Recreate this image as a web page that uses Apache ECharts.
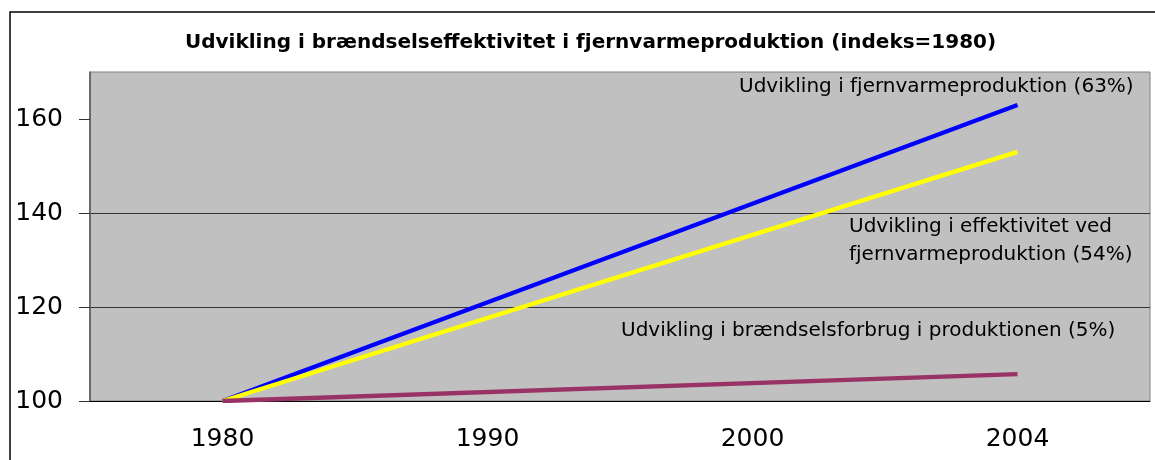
<!DOCTYPE html>
<html>
<head>
<meta charset="utf-8">
<script src="https://cdn.jsdelivr.net/npm/echarts@6/dist/echarts.min.js"></script>
<style>
  html, body { margin: 0; padding: 0; background: #fff; }
  #chart { width: 1155px; height: 460px; }
</style>
</head>
<body>
<div id="chart"></div>
<script>
// år (kun 1980 og 2004 har værdier, linjerne forbindes lige)
const years = ['1980', '1990', '2000', '2004']
const fjernvarme = [100, null, null, 163]
const effektivitet = [100, null, null, 153]
const braendsel = [100, null, null, 105.7]
const yTicks = [100, 120, 140, 160]

const font = 'DejaVu Sans, Liberation Sans, Arial, sans-serif'

const chart = echarts.init(document.getElementById('chart'))

chart.setOption({
  animation: false,
  title: {
    text: 'Udvikling i brændselseffektivitet i fjernvarmeproduktion (indeks=1980)',
    left: 180,
    top: 28,
    textStyle: { fontFamily: font, fontSize: 20, fontWeight: 'bold', color: '#000' }
  },
  grid: {
    left: 90, right: 5, top: 72, bottom: 59,
    show: true, backgroundColor: '#C0C0C0', borderColor: '#808080', borderWidth: 1
  },
  xAxis: {
    type: 'category',
    data: years,
    boundaryGap: true,
    axisLine: { lineStyle: { color: '#000', width: 1 } },
    axisTick: { length: 9, lineStyle: { color: '#555' } },
    axisLabel: { margin: 26, fontFamily: font, fontSize: 25, color: '#000' }
  },
  yAxis: {
    type: 'value',
    min: 100, max: 170, interval: 20,
    axisLine: { show: true, lineStyle: { color: '#555', width: 1.5 } },
    axisTick: { show: true, length: 11, customValues: yTicks, lineStyle: { color: '#333' } },
    axisLabel: { margin: 27, fontFamily: font, fontSize: 25, color: '#000', customValues: yTicks },
    splitLine: { show: true, showMaxLine: false, lineStyle: { color: '#333', width: 1 } }
  },
  series: [
    {
      name: 'Udvikling i fjernvarmeproduktion (63%)',
      type: 'line', data: fjernvarme, connectNulls: true, showSymbol: false,
      lineStyle: { color: '#0000FF', width: 4.3 }, itemStyle: { color: '#0000FF' }
    },
    {
      name: 'Udvikling i effektivitet ved fjernvarmeproduktion (54%)',
      type: 'line', data: effektivitet, connectNulls: true, showSymbol: false,
      lineStyle: { color: '#FFFF00', width: 4.3 }, itemStyle: { color: '#FFFF00' }
    },
    {
      name: 'Udvikling i brændselsforbrug i produktionen (5%)',
      type: 'line', data: braendsel, connectNulls: true, showSymbol: false,
      lineStyle: { color: '#993366', width: 4.3 }, itemStyle: { color: '#993366' }
    }
  ],
  graphic: [
    {
      type: 'rect', z: -1, silent: true,
      shape: { x: 10, y: 12, width: 1200, height: 500 },
      style: { fill: 'none', stroke: '#000', lineWidth: 1.5 }
    },
    {
      type: 'text', left: 739, top: 77, z: 10,
      style: { text: 'Udvikling i fjernvarmeproduktion (63%)', font: '20px ' + font, fill: '#000' }
    },
    {
      type: 'text', left: 849, top: 213, z: 10,
      style: { text: 'Udvikling i effektivitet ved\nfjernvarmeproduktion (54%)', font: '20px ' + font, lineHeight: 28, fill: '#000' }
    },
    {
      type: 'text', left: 621, top: 321, z: 10,
      style: { text: 'Udvikling i brændselsforbrug i produktionen (5%)', font: '20px ' + font, fill: '#000' }
    }
  ]
})
</script>
</body>
</html>
